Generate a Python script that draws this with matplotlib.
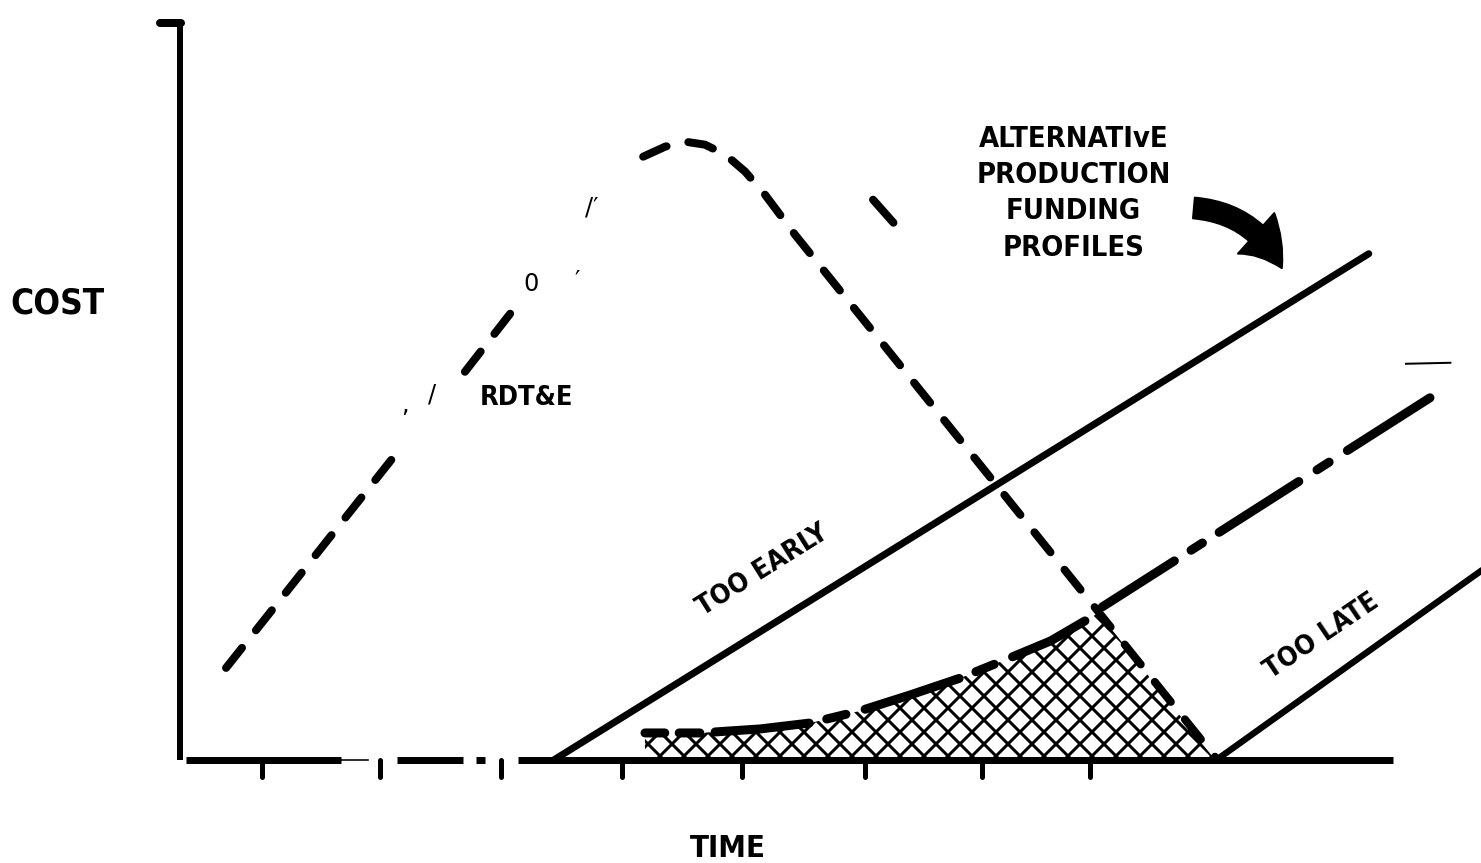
import matplotlib
matplotlib.use("Agg")
import matplotlib.pyplot as plt
from matplotlib.patches import FancyArrowPatch

# Время в условных единицах (деления оси), стоимость в условных единицах
tick_t = [1.0, 1.98, 2.99, 4.0, 5.0, 6.02, 7.0, 7.9]

# Ось X: куски жирной линии (отсканированный рисунок)
base_pieces = [(0.37, 1.66), (2.12, 2.67), (2.78, 2.86), (3.13, 10.42)]
base_thin = (1.66, 1.88)

# Ось Y
yaxis_t = 0.317
yaxis_top = 7.37
yaxis_hook = 0.15

# Кривая НИОКР (RDT&E), видимые части
rdte_a_t = [0.70, 2.11]
rdte_a_c = [0.92, 3.05]
rdte_b_t = [2.69, 3.125]
rdte_b_c = [3.88, 4.55]
rdte_c_t = [4.175, 4.358, 4.525, 4.69, 4.86, 5.025, 5.19, 5.44, 8.94]
rdte_c_c = [6.03, 6.13, 6.18, 6.15, 6.05, 5.88, 5.65, 5.25, 0.03]
stray_t = [6.09, 6.26]
stray_c = [5.60, 5.37]

# Альтернативные профили финансирования производства
early_t = [3.43, 10.22]
early_c = [0.0, 5.06]
mid_t = [8.0, 10.73]
mid_c = [1.53, 3.62]
late_t = [8.95, 11.4]
late_c = [0.0, 2.10]

# Заштрихованная область (перекрытие)
hatch_t = [4.19, 4.65, 5.15, 5.57, 5.98, 6.40, 6.82, 7.23, 7.57, 7.97, 8.94]
hatch_c = [0.27, 0.27, 0.31, 0.37, 0.49, 0.65, 0.82, 1.02, 1.19, 1.47, 0.0]
overlap_t = hatch_t[:-1]
overlap_c = hatch_c[:-1]

# Стрелка к профилям
arrow_tail = (8.73, 5.52)
arrow_head = (9.51, 4.88)

# Мелкий штрих справа вверху
speck_t = [10.53, 10.90]
speck_c = [3.96, 3.97]

DPI = 144
plt.rcParams["hatch.linewidth"] = 1.5
cond = ["DejaVu Sans"]

fig = plt.figure(figsize=(1481.4 / DPI, 863.4 / DPI), dpi=DPI)
ax = fig.add_axes([0, 0, 1, 1])
ax.set_xlim(-142 / 120, (1481 - 142) / 120)
ax.set_ylim((760 - 863) / 100, 760 / 100)
ax.axis("off")

# Оси
ax.plot([yaxis_t, yaxis_t], [0, yaxis_top], color="black", lw=3, solid_capstyle="butt")
ax.plot([yaxis_hook, yaxis_t + 0.01], [yaxis_top, yaxis_top], color="black", lw=4,
        solid_capstyle="round")
for t0, t1 in base_pieces:
    ax.plot([t0, t1], [0, 0], color="black", lw=3.5, solid_capstyle="butt")
ax.plot(base_thin, [0, 0], color="black", lw=0.8)
for t in tick_t:
    ax.plot([t, t], [0, -0.17], color="black", lw=2.5, solid_capstyle="round")

# RDT&E
dash_rdte = (0, (3.2, 2.8))
for tt, cc in [(rdte_a_t, rdte_a_c), (rdte_b_t, rdte_b_c), (rdte_c_t, rdte_c_c)]:
    ax.plot(tt, cc, color="black", lw=4, linestyle=dash_rdte, dash_capstyle="round")
ax.plot(stray_t, stray_c, color="black", lw=4, solid_capstyle="round")

# Профили
ax.plot(early_t, early_c, color="black", lw=3.5, solid_capstyle="round")
ax.plot(late_t, late_c, color="black", lw=3.2, solid_capstyle="round")
ax.plot(mid_t, mid_c, color="black", lw=4.5,
        linestyle=(0, (9.5, 2.2, 1.5, 2.2, 10.5, 2.4, 1.6, 2.4, 11)),
        dash_capstyle="round")

# Штриховка
ax.fill_between(hatch_t, 0, hatch_c, facecolor="none", edgecolor="black",
                hatch="xx", linewidth=0)
ax.plot(overlap_t, overlap_c, color="black", lw=4.5,
        linestyle=(0, (2.2, 1.6, 2.3, 1.7, 10.5, 2.0, 2.2, 2.2, 11, 2.0, 2.2, 2.2, 9)),
        dash_capstyle="round")

ax.plot(speck_t, speck_c, color="black", lw=1.0)

# Стрелка
arr = FancyArrowPatch(arrow_tail, arrow_head, connectionstyle="arc3,rad=-0.3",
                      arrowstyle="simple,tail_width=0.65,head_width=1.7,head_length=1.35",
                      mutation_scale=16, color="black")
ax.add_patch(arr)

# Подписи
txt = dict(family=cond, stretch="condensed", ha="center", va="center")
ax.text(-0.708, 4.57, "COST", weight="bold", fontsize=17.5, **txt)
ax.text(4.88, -0.88, "TIME", weight="bold", fontsize=15.5, **txt)
ax.text(3.2, 3.62, "RDT&E", weight="bold", fontsize=13.5, **txt)
ax.text(5.17, 1.9, "TOO EARLY", weight="bold", fontsize=13.5,
        rotation=32, rotation_mode="anchor", **txt)
ax.text(9.83, 1.24, "TOO LATE", weight="bold", fontsize=13.5,
        rotation=34, rotation_mode="anchor", **txt)
ax.text(7.76, 5.67, "ALTERNATIvE\nPRODUCTION\nFUNDING\nPROFILES",
        weight="semibold", fontsize=14.5, linespacing=1.38, **txt)

# Остатки распознавания текста на скане
ax.text(3.24, 4.76, "0", family="DejaVu Sans", fontsize=12, ha="center", va="center")
ax.text(3.63, 4.80, "′", family="DejaVu Sans", fontsize=12, ha="center", va="center")
ax.text(3.75, 5.53, "/′", family="DejaVu Sans", fontsize=12, ha="center", va="center")
ax.text(2.19, 3.55, ",", family="DejaVu Sans", fontsize=12, ha="center", va="center")
ax.text(2.42, 3.66, "/", family="DejaVu Sans", fontsize=12, ha="center", va="center")

fig.savefig("out.png", dpi=DPI)
